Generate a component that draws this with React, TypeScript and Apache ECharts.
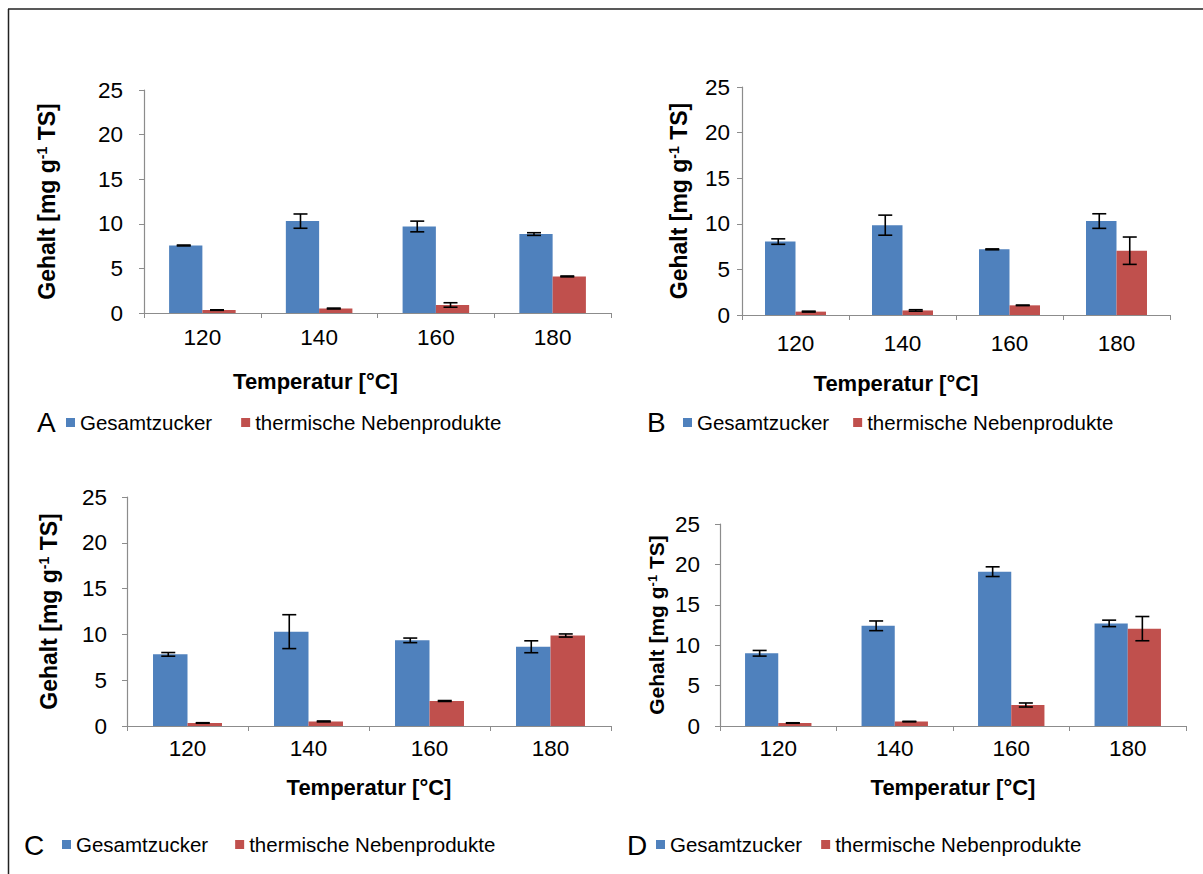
import React, { useEffect, useRef } from "react";
import * as echarts from "echarts";

const categories = ["120", "140", "160", "180"];

const zuckerA = [7.57, 10.3, 9.7, 8.85];
const zuckerErrA = [0.05, 0.8, 0.6, 0.15];
const nebenA = [0.33, 0.5, 0.9, 4.1];
const nebenErrA = [0.03, 0.05, 0.25, 0.05];

const zuckerB = [8.05, 9.85, 7.2, 10.3];
const zuckerErrB = [0.3, 1.1, 0.05, 0.8];
const nebenB = [0.37, 0.5, 1.06, 7.05];
const nebenErrB = [0.05, 0.08, 0.03, 1.5];

const zuckerC = [7.82, 10.3, 9.35, 8.65];
const zuckerErrC = [0.2, 1.85, 0.25, 0.65];
const nebenC = [0.33, 0.5, 2.73, 9.88];
const nebenErrC = [0.03, 0.05, 0.05, 0.17];

const zuckerD = [9.0, 12.4, 19.1, 12.7];
const zuckerErrD = [0.35, 0.6, 0.6, 0.4];
const nebenD = [0.37, 0.55, 2.6, 12.05];
const nebenErrD = [0.03, 0.03, 0.25, 1.5];

const seriesNames = ["Gesamtzucker", "thermische Nebenprodukte"];
const panelLetters = ["A", "B", "C", "D"];
const yTicks = { min: 0, max: 25, interval: 5 };

const FONT = "'Liberation Sans', Arial, sans-serif";
const BLUE = "#4F81BD";
const RED = "#C0504D";
const AXIS = "#8C8C8C";
const GAP = 0.43;

const panels = [
  { z: zuckerA, ze: zuckerErrA, n: nebenA, ne: nebenErrA,
    grid: { left: 144, top: 90, width: 467, height: 223 },
    yLabelMargin: 21, yNameGap: 86, yNameSize: 23, xLabelMargin: 13, xNameGap: 57, xNameShift: 62,
    letter: { x: 37, y: 422 }, legend: { left: 66, top: 412, gap: 29 } },
  { z: zuckerB, ze: zuckerErrB, n: nebenB, ne: nebenErrB,
    grid: { left: 742, top: 87, width: 428, height: 228 },
    yLabelMargin: 12, yNameGap: 52, yNameSize: 23, xLabelMargin: 17, xNameGap: 57, xNameShift: 60,
    letter: { x: 647, y: 422 }, legend: { left: 683, top: 412, gap: 24 } },
  { z: zuckerC, ze: zuckerErrC, n: nebenC, ne: nebenErrC,
    grid: { left: 127, top: 497, width: 484, height: 229 },
    yLabelMargin: 20, yNameGap: 67, yNameSize: 23, xLabelMargin: 11, xNameGap: 50, xNameShift: 0,
    letter: { x: 24, y: 845 }, legend: { left: 62, top: 834, gap: 27 } },
  { z: zuckerD, ze: zuckerErrD, n: nebenD, ne: nebenErrD,
    grid: { left: 720, top: 524, width: 466, height: 202 },
    yLabelMargin: 20, yNameGap: 53, yNameSize: 21, xLabelMargin: 11, xNameGap: 50, xNameShift: 0,
    letter: { x: 627, y: 845 }, legend: { left: 656, top: 834, gap: 19 } },
];

function errorRender(params: any, api: any) {
  const ci = api.value(0);
  const v = api.value(1);
  const e = api.value(2);
  const s = api.value(3);
  const band = api.size([1, 0])[0];
  const barW = (band * (1 - GAP)) / 2;
  const c = api.coord([ci, v]);
  const x = c[0] + (s === 0 ? -barW / 2 : barW / 2) - 2;
  const top = api.coord([ci, v + e])[1];
  const bot = api.coord([ci, v - e])[1];
  const hw = 7;
  const st = { stroke: "#000", lineWidth: 1.6 };
  return {
    type: "group",
    children: [
      { type: "line", shape: { x1: x, y1: top, x2: x, y2: bot }, style: st },
      { type: "line", shape: { x1: x - hw, y1: top, x2: x + hw, y2: top }, style: st },
      { type: "line", shape: { x1: x - hw, y1: bot, x2: x + hw, y2: bot }, style: st },
    ],
  };
}

export default function App() {
  const ref = useRef<HTMLDivElement>(null);
  useEffect(() => {
    if (!ref.current) return;
    const chart = echarts.init(ref.current, null, { renderer: "svg" });
    const grids: any[] = [];
    const xAxes: any[] = [];
    const yAxes: any[] = [];
    const series: any[] = [];
    const legends: any[] = [];
    const graphics: any[] = [
      { type: "line", shape: { x1: 8.5, y1: 9, x2: 8.5, y2: 874 }, style: { stroke: "#222", lineWidth: 1.5 } },
      { type: "line", shape: { x1: 8, y1: 9, x2: 1203, y2: 9 }, style: { stroke: "#222", lineWidth: 1.5 } },
    ];
    panels.forEach((p, i) => {
      grids.push({ ...p.grid, containLabel: false });
      xAxes.push({
        type: "category",
        gridIndex: i,
        data: categories,
        axisLine: { show: true, lineStyle: { color: AXIS, width: 1.2 } },
        axisTick: { show: true, length: 5, lineStyle: { color: AXIS } },
        axisLabel: { color: "#000", fontSize: 22.5, fontFamily: FONT, margin: p.xLabelMargin },
        splitLine: { show: false },
        name: "Temperatur [°C]",
        nameLocation: "middle",
        nameGap: p.xNameGap,
        nameTextStyle: {
          color: "#000", fontSize: 22, fontWeight: "bold", fontFamily: FONT,
          padding: [0, p.xNameShift * 2, 0, 0],
        },
      });
      yAxes.push({
        type: "value",
        gridIndex: i,
        min: yTicks.min,
        max: yTicks.max,
        interval: yTicks.interval,
        axisLine: { show: true, lineStyle: { color: AXIS, width: 1.2 } },
        axisTick: { show: true, length: 5, lineStyle: { color: AXIS } },
        axisLabel: { color: "#000", fontSize: 22.5, fontFamily: FONT, margin: p.yLabelMargin },
        splitLine: { show: false },
        name: "{a|Gehalt [mg g}{s|-1}{a| TS]}",
        nameLocation: "middle",
        nameGap: p.yNameGap,
        nameTextStyle: {
          rich: {
            a: { fontSize: p.yNameSize, fontWeight: "bold", fontFamily: FONT, color: "#000" },
            s: { fontSize: Math.round(p.yNameSize * 0.6), fontWeight: "bold", fontFamily: FONT, color: "#000", verticalAlign: "top" },
          },
        },
      });
      const mk = (vals: number[], errs: number[], s: number) =>
        vals.map((v, k) => [k, v, errs[k], s]);
      series.push({
        type: "bar", name: seriesNames[0], xAxisIndex: i, yAxisIndex: i,
        data: p.z, itemStyle: { color: BLUE }, barGap: "0%", barCategoryGap: "43%",
      });
      series.push({
        type: "bar", name: seriesNames[1], xAxisIndex: i, yAxisIndex: i,
        data: p.n, itemStyle: { color: RED }, barGap: "0%", barCategoryGap: "43%",
      });
      series.push({
        type: "custom", name: "err" + i, xAxisIndex: i, yAxisIndex: i, z: 5,
        data: [...mk(p.z, p.ze, 0), ...mk(p.n, p.ne, 1)],
        encode: { x: 0, y: 1 },
        renderItem: errorRender,
        silent: true,
      });
      legends.push({
        data: seriesNames,
        left: p.legend.left,
        top: p.legend.top,
        orient: "horizontal",
        icon: "rect",
        itemWidth: 9,
        itemHeight: 9,
        itemGap: p.legend.gap,
        selectedMode: false,
        padding: 0,
        textStyle: { color: "#000", fontSize: 20.5, fontFamily: FONT },
      });
      graphics.push({
        type: "text",
        x: p.letter.x,
        y: p.letter.y,
        style: { text: panelLetters[i], fontSize: 28, fontFamily: FONT, fill: "#000", verticalAlign: "middle" },
      });
    });
    chart.setOption({
      animation: false,
      backgroundColor: "#fff",
      grid: grids,
      xAxis: xAxes,
      yAxis: yAxes,
      series,
      legend: legends,
      graphic: graphics,
    });
    return () => chart.dispose();
  }, []);
  return (
    <div
      ref={ref}
      style={{ position: "absolute", left: 0, top: 0, width: 1203, height: 874, background: "#fff" }}
    />
  );
}
